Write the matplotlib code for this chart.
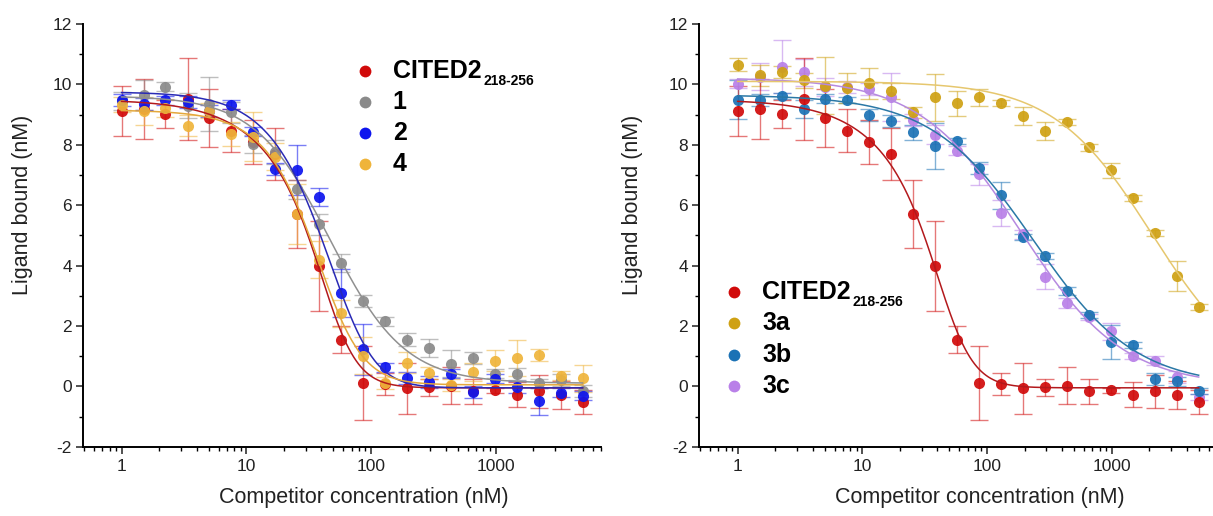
import numpy as np
import matplotlib
matplotlib.use("Agg")
import matplotlib.pyplot as plt
from matplotlib.ticker import LogLocator, FixedLocator, MultipleLocator, NullFormatter

plt.rcParams['font.family'] = ['Liberation Sans', 'DejaVu Sans']
plt.rcParams['axes.unicode_minus'] = False

# competitor concentrations (nM)
conc = [1, 1.5, 2.25, 3.38, 5.06, 7.59, 11.4, 17.1, 25.6, 38.4, 57.7, 86.5,
        130, 195, 292, 438, 657, 985, 1478, 2217, 3325, 4988]

# ligand bound (nM) and standard deviations
cited2 = [9.12, 9.19, 9.02, 9.53, 8.88, 8.47, 8.08, 7.69, 5.71, 3.99, 1.55, 0.11,
          0.07, -0.07, -0.03, 0.02, -0.17, -0.13, -0.28, -0.17, -0.28, -0.52]
cited2_err = [0.82, 1.0, 0.45, 1.36, 0.97, 0.70, 0.73, 0.87, 1.13, 1.5, 0.44, 1.21,
              0.36, 0.85, 0.28, 0.62, 0.40, 0.08, 0.41, 0.56, 0.46, 0.40]

cmpd1 = [9.45, 9.66, 9.92, 9.30, 9.35, 9.07, 8.03, 7.75, 6.52, 5.36, 4.08, 2.82,
         2.16, 1.55, 1.26, 0.75, 0.94, 0.41, 0.40, 0.10, 0.22, -0.14]
cmpd1_err = [0.3, 0.5, 0.15, 0.4, 0.9, 0.35, 0.3, 0.4, 0.3, 0.35, 0.3, 0.2,
             0.15, 0.2, 0.3, 0.45, 0.2, 0.15, 0.2, 0.15, 0.2, 0.2]

cmpd2 = [9.48, 9.34, 9.48, 9.42, 9.12, 9.32, 8.43, 7.19, 7.16, 6.26, 3.10, 1.22,
         0.63, 0.28, 0.13, 0.41, -0.18, 0.25, -0.03, -0.50, -0.21, -0.31]
cmpd2_err = [0.2, 0.2, 0.15, 0.2, 0.2, 0.15, 0.15, 0.2, 0.83, 0.3, 0.8, 0.85,
             0.15, 0.2, 0.2, 0.15, 0.2, 0.15, 0.2, 0.45, 0.15, 0.15]

cmpd4 = [9.33, 9.12, 9.22, 8.63, 9.12, 8.36, 8.27, 7.60, 5.71, 4.20, 2.42, 1.02,
         0.12, 0.78, 0.45, 0.04, 0.46, 0.85, 0.95, 1.05, 0.35, 0.26]
cmpd4_err = [0.25, 0.45, 0.3, 0.35, 0.25, 0.4, 0.8, 0.45, 1.0, 0.6, 0.45, 0.6,
             0.2, 0.35, 0.2, 0.2, 0.3, 0.35, 0.6, 0.2, 0.15, 0.45]

cmpd3a = [10.65, 10.30, 10.41, 10.13, 9.96, 9.89, 10.03, 9.78, 9.08, 9.57, 9.37, 9.58,
          9.37, 8.95, 8.46, 8.74, 7.91, 7.15, 6.24, 5.09, 3.65, 2.64]
cmpd3a_err = [0.22, 0.35, 0.2, 0.25, 0.95, 0.5, 0.5, 0.28, 0.18, 0.78, 0.42, 0.28,
              0.1, 0.3, 0.3, 0.1, 0.1, 0.25, 0.1, 0.1, 0.5, 0.1]

cmpd3b = [9.49, 9.49, 9.61, 9.19, 9.53, 9.49, 9.00, 8.78, 8.42, 7.96, 8.12, 7.23,
          6.32, 4.95, 4.32, 3.16, 2.35, 1.47, 1.36, 0.25, 0.17, -0.15]
cmpd3b_err = [0.65, 0.2, 0.1, 0.3, 0.15, 0.1, 0.2, 0.2, 0.25, 0.75, 0.1, 0.2,
              0.45, 0.1, 0.1, 0.12, 0.1, 0.55, 0.1, 0.2, 0.15, 0.1]

cmpd3c = [10.02, 10.25, 10.58, 10.40, 9.91, 9.90, 9.84, 9.58, 8.81, 8.34, 7.81, 7.02,
          5.75, 5.03, 3.63, 2.76, 2.30, 1.82, 0.99, 0.85, 0.30, -0.36]
cmpd3c_err = [0.15, 0.45, 0.88, 0.45, 0.3, 0.2, 0.2, 0.8, 0.2, 0.3, 0.15, 0.35,
              0.43, 0.15, 0.42, 0.15, 0.1, 0.27, 0.1, 0.15, 0.2, 0.1]

# fit parameters: top, bottom, c1, n1, c2, n2  (c2 = None -> single Hill term)
fit_cited2 = [9.50, -0.05, 47.9, 1.3, 43.0, 3.6]
fit_1 = [9.62, 0.10, 47.0, 1.45, None, None]
fit_2 = [9.75, -0.05, 46.8, 1.6, 63.9, 3.5]
fit_4 = [9.15, 0.05, 48.0, 1.6, 46.9, 3.0]
fit_3a = [10.10, 0.0, 2100.0, 1.1, None, None]
fit_3b = [9.65, 0.0, 237.0, 1.06, None, None]
fit_3c = [10.22, 0.0, 188.0, 1.06, None, None]

xticks = [1, 10, 100, 1000]
xtick_labels = ["1", "10", "100", "1000"]


def displacement(x, top, bottom, c1, n1, c2, n2):
    g = (x / c1) ** n1
    if c2 is not None:
        g = g + (x / c2) ** n2
    return bottom + (top - bottom) / (1.0 + g)


def plot_series(ax, y, err, fit, color, line_color):
    x = np.asarray(conc)
    ax.errorbar(x, y, yerr=err, fmt='none', ecolor=color, alpha=0.55,
                elinewidth=1.0, capsize=6.5, capthick=1.0, zorder=2)
    ax.plot(x, y, 'o', ms=8.0, color=color, mec=color, mew=0.0,
            alpha=0.92, zorder=3)
    xf = np.logspace(0, np.log10(x[-1]), 400)
    ax.plot(xf, displacement(xf, *fit), '-', color=line_color, lw=1.1, zorder=4)


def style_axes(ax):
    ax.set_xscale('log')
    ax.set_xlim(0.49, 7000)
    ax.set_ylim(-2, 12)
    ax.xaxis.set_major_locator(FixedLocator(xticks))
    ax.set_xticklabels(xtick_labels)
    ax.xaxis.set_minor_locator(LogLocator(base=10, subs=np.arange(2, 10)))
    ax.xaxis.set_minor_formatter(NullFormatter())
    ax.yaxis.set_major_locator(MultipleLocator(2))
    ax.yaxis.set_minor_locator(MultipleLocator(1))
    for side in ('top', 'right'):
        ax.spines[side].set_visible(False)
    for side in ('left', 'bottom'):
        ax.spines[side].set_linewidth(1.4)
    ax.tick_params(which='major', direction='out', length=5, width=1.1,
                   labelsize=12.5, colors='#222222')
    ax.tick_params(which='minor', direction='out', length=2.7, width=1.0)
    ax.tick_params(axis='y', pad=3)
    ax.tick_params(axis='x', pad=4)
    ax.set_xlabel('Competitor concentration (nM)', fontsize=15.5, color='#222222')
    ax.set_ylabel('Ligand bound (nM)', fontsize=15.5, color='#222222')
    ax.xaxis.set_label_coords(0.543, -0.096)


def draw_key(ax, entries, x_mark, x_text, y_top, dy):
    for i, (label, sub, color) in enumerate(entries):
        y = y_top - i * dy
        ax.plot([x_mark], [y], 'o', ms=8.5, color=color, mew=0,
                transform=ax.transAxes, clip_on=False, zorder=5)
        t = ax.text(x_text, y, label, transform=ax.transAxes, fontsize=18,
                    fontweight='bold', va='center', ha='left', color='black')
        if sub:
            ax.annotate(sub, xy=(1, 0), xycoords=t, xytext=(1.5, -1.5),
                        textcoords='offset points', fontsize=10,
                        fontweight='bold', va='baseline', ha='left')


red = '#d10a0a'
gray = '#8a8a8a'
blue2 = '#0d14ee'
yellow4 = '#efb43a'
gold3a = '#cfa113'
blue3b = '#1b72b5'
purple3c = '#b980e8'

fig = plt.figure(figsize=(12.13, 5.16), dpi=100)
ax1 = fig.add_axes([0.0684, 0.1343, 0.4270, 0.8192])
ax2 = fig.add_axes([0.5763, 0.1343, 0.4270, 0.8192])

plot_series(ax1, cited2, cited2_err, fit_cited2, red, '#b3191c')
plot_series(ax1, cmpd1, cmpd1_err, fit_1, gray, '#909090')
plot_series(ax1, cmpd2, cmpd2_err, fit_2, blue2, '#2a2ab5')
plot_series(ax1, cmpd4, cmpd4_err, fit_4, yellow4, '#e4a83c')

plot_series(ax2, cmpd3c, cmpd3c_err, fit_3c, purple3c, '#b689e0')
plot_series(ax2, cmpd3b, cmpd3b_err, fit_3b, blue3b, '#2a78a6')
plot_series(ax2, cmpd3a, cmpd3a_err, fit_3a, gold3a, '#e6c76e')
plot_series(ax2, cited2, cited2_err, fit_cited2, red, '#b3191c')

style_axes(ax1)
style_axes(ax2)
ax1.yaxis.set_label_coords(-0.0965, 0.572)
ax2.yaxis.set_label_coords(-0.109, 0.572)

draw_key(ax1, [('CITED2', '218-256', red), ('1', None, gray),
               ('2', None, blue2), ('4', None, yellow4)],
         0.545, 0.598, 0.889, 0.0735)
draw_key(ax2, [('CITED2', '218-256', red), ('3a', None, gold3a),
               ('3b', None, blue3b), ('3c', None, purple3c)],
         0.0676, 0.1216, 0.365, 0.0735)

fig.savefig('out.png', dpi=100, facecolor='white')
